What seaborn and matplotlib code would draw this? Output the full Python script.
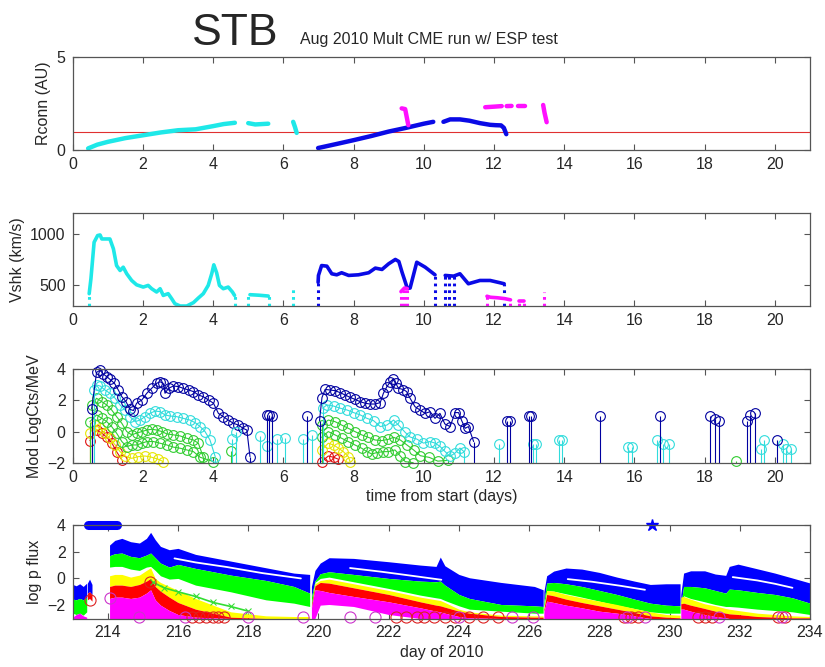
import numpy as np
import pandas as pd
import matplotlib
matplotlib.use('Agg')
from matplotlib import pyplot as plt
import seaborn as sns

# ---------------- panel 1 : Rconn (AU) vs time from start ----------------
r_cyan_t = [[0.44, 0.7, 1.0, 1.5, 2.0, 2.5, 3.0, 3.5, 4.0, 4.3, 4.62],
            [5.0, 5.2, 5.57],
            [6.28, 6.33, 6.38]]
r_cyan_v = [[0.1, 0.3, 0.45, 0.65, 0.8, 0.95, 1.07, 1.12, 1.29, 1.4, 1.47],
            [1.45, 1.38, 1.42],
            [1.52, 1.25, 0.93]]
r_blue_t = [[6.99, 7.5, 8.0, 8.5, 9.0, 9.5, 10.0, 10.27],
            [10.56, 10.75, 11.03, 11.3, 11.6, 11.89, 12.05, 12.2, 12.28, 12.35]]
r_blue_v = [[0.12, 0.33, 0.54, 0.76, 1.0, 1.2, 1.42, 1.52],
            [1.52, 1.65, 1.65, 1.58, 1.45, 1.36, 1.34, 1.33, 1.2, 0.86]]
r_mag_t = [[9.37, 9.47, 9.56], [11.75, 12.0, 12.22], [12.36, 12.5],
           [12.69, 12.89], [13.4, 13.44, 13.5]]
r_mag_v = [[2.24, 2.2, 1.34], [2.3, 2.33, 2.36], [2.36, 2.37],
           [2.36, 2.36], [2.42, 2.0, 1.5]]
r_ref = 1.0

# ---------------- panel 2 : Vshk (km/s) ----------------
v_cyan_t = [[0.47, 0.52, 0.61, 0.71, 0.78, 0.83, 1.06, 1.16, 1.25, 1.35, 1.44, 1.54, 1.68,
             1.82, 2.01, 2.15, 2.25, 2.39, 2.49, 2.58, 2.72, 2.82, 2.91, 3.06, 3.25, 3.44,
             3.58, 3.72, 3.86, 3.96, 4.02, 4.1, 4.18, 4.29, 4.43, 4.55, 4.61],
            [5.05, 5.3, 5.57]]
v_cyan_v = [[420, 565, 919, 984, 990, 951, 951, 855, 693, 645, 677, 613, 548,
             506, 484, 500, 468, 436, 468, 403, 420, 371, 323, 300, 300, 333,
             378, 420, 500, 613, 700, 623, 500, 468, 484, 436, 403],
            [410, 405, 397]]
v_blue_t = [[6.99, 7.0, 7.09, 7.24, 7.38, 7.52, 7.66, 7.86, 8.14, 8.43, 8.62, 8.81, 9.0,
             9.19, 9.29, 9.38, 9.53, 9.61, 9.8, 10.04, 10.32],
            [10.61, 10.85, 11.03, 11.27, 11.6, 11.89, 12.17, 12.29]]
v_blue_v = [[530, 597, 693, 687, 613, 603, 623, 597, 603, 623, 668, 655, 710,
             752, 732, 629, 474, 474, 725, 677, 603],
            [597, 590, 613, 516, 548, 548, 526, 516]]
v_mag_t = [[9.35, 9.45, 9.53], [11.8, 11.9, 12.1, 12.3, 12.47], [12.72, 12.85]]
v_mag_v = [[440, 475, 470], [395, 385, 380, 372, 360], [352, 352]]
# dotted columns running down to the bottom of the axis
col_cyan_t = [0.47, 4.61, 5.0, 5.6, 6.28]
col_cyan_v = [420, 403, 420, 397, 480]
col_blue_t = [6.99, 10.32, 10.61, 10.73, 10.85, 12.29]
col_blue_v = [530, 603, 597, 590, 590, 516]
col_mag_t = [9.35, 9.43, 9.51, 11.8, 12.47, 12.72, 12.85, 13.42]
col_mag_v = [440, 470, 470, 400, 360, 350, 350, 435]

# ---------------- panel 3 : Mod LogCts/MeV ----------------
m_blue_t = [[0.54, 0.68, 0.78, 0.87, 0.97, 1.06, 1.19, 1.30, 1.40, 1.52, 1.63, 1.73, 1.82,
             1.97, 2.11, 2.25, 2.39, 2.49, 2.58, 2.63, 2.73, 2.87, 3.01, 3.15, 3.30, 3.44,
             3.58, 3.72, 3.87, 4.01, 4.15, 4.29, 4.43, 4.58, 4.72, 4.86, 4.96, 5.05],
            [7.03, 7.1, 7.19, 7.33, 7.47, 7.62, 7.76, 7.90, 8.04, 8.19, 8.33, 8.47, 8.61,
             8.76, 8.85, 8.95, 9.05, 9.12, 9.2, 9.28, 9.42, 9.51, 9.61, 9.75, 9.89, 10.04,
             10.18, 10.32, 10.46, 10.6, 10.75, 10.89, 10.99, 11.08, 11.18, 11.27, 11.42]]
m_blue_v = [[1.45, 3.8, 3.95, 3.7, 3.53, 3.36, 3.1, 2.67, 2.24, 1.92, 1.43, 1.35, 1.82,
             2.03, 2.46, 2.78, 3.1, 3.2, 3.1, 2.46, 2.78, 2.93, 2.89, 2.78, 2.67, 2.57,
             2.35, 2.24, 2.03, 1.82, 1.17, 0.96, 0.74, 0.53, 0.42, 0.2, 0.1, -1.61],
            [0.7, 2.18, 2.71, 2.67, 2.63, 2.5, 2.35, 2.2, 2.07, 1.92, 1.82, 1.77, 1.77,
             1.86, 2.46, 2.89, 3.2, 3.36, 3.1, 2.78, 2.7, 2.57, 2.14, 1.6, 1.39, 1.17,
             1.28, 0.85, 1.17, 0.49, 0.32, 1.22, 1.22, 0.7, 0.21, 0.32, -0.64]]
m_cyan_t = [[0.6, 0.68, 0.78, 0.92, 1.06, 1.21, 1.35, 1.49, 1.63, 1.78, 1.92, 2.06, 2.2,
             2.35, 2.49, 2.63, 2.77, 2.96, 3.15, 3.34, 3.49, 3.63, 3.77, 3.91, 4.06],
            [7.12, 7.24, 7.43, 7.62, 7.81, 8.0, 8.19, 8.38, 8.57, 8.76, 8.95, 9.14, 9.28,
             9.47, 9.61, 9.8, 9.99, 10.18, 10.32, 10.46, 10.6, 10.75, 10.89, 11.03, 11.15]]
m_cyan_v = [[2.7, 2.99, 2.93, 2.67, 2.46, 2.14, 1.71, 1.39, 0.96, 0.64, 0.74, 0.96, 1.17,
             1.32, 1.28, 1.07, 1.0, 0.96, 0.85, 0.74, 0.57, 0.32, 0.0, -0.54, -1.61],
            [1.5, 1.71, 1.64, 1.5, 1.39, 1.22, 1.07, 0.85, 0.7, 0.32, 0.42, 0.74, 0.42,
             -0.05, -0.35, -0.48, -0.74, -0.64, -0.74, -0.95, -1.27, -1.6, -1.38, -1.06, -1.3]]
m_green_t = [[0.55, 0.68, 0.83, 0.97, 1.11, 1.25, 1.4, 1.54, 1.68, 1.82, 1.97, 2.11, 2.25,
              2.39, 2.54, 2.68, 2.87, 3.06, 3.25, 3.44, 3.58, 3.72],
             [0.49, 0.68, 0.83, 0.97, 1.11, 1.25, 1.4, 1.54, 1.68, 1.82, 1.97, 2.11, 2.3,
              2.49, 2.68, 2.87, 3.06, 3.25, 3.44, 3.63, 4.01],
             [7.09, 7.28, 7.47, 7.66, 7.85, 8.04, 8.23, 8.42, 8.61, 8.8, 8.99, 9.14, 9.33,
              9.52, 9.71, 9.9, 10.16, 10.4, 10.7],
             [7.09, 7.28, 7.47, 7.66, 7.85, 8.04, 8.23, 8.38, 8.52, 8.66, 8.85, 8.99, 9.18,
              9.33, 9.47, 9.7]]
m_green_v = [[1.7, 2.14, 1.92, 1.71, 1.39, 0.96, 0.53, 0.0, -0.21, -0.1, 0.0, 0.1, 0.15,
              0.1, 0.0, -0.15, -0.21, -0.28, -0.43, -0.54, -0.75, -1.65],
             [0.64, 1.07, 0.85, 0.64, 0.32, -0.1, -0.64, -0.97, -0.86, -0.86, -0.75, -0.64, -0.64,
              -0.75, -0.86, -1.0, -1.07, -1.18, -1.29, -1.65, -1.93],
             [0.42, 0.74, 0.64, 0.42, 0.21, 0.0, -0.21, -0.37, -0.54, -0.58, -0.5, -0.37, -0.54,
              -0.86, -1.18, -1.55, -1.66, -1.9, -1.85],
             [-0.37, 0.0, -0.21, -0.43, -0.64, -0.86, -1.07, -1.29, -1.44, -1.35, -1.29, -1.29, -1.18,
              -1.57, -1.93, -2.0]]
m_yellow_t = [[0.49, 0.64, 0.78, 0.92, 1.06, 1.21, 1.35, 1.49, 1.68, 1.87, 2.06, 2.25, 2.44, 2.58],
              [7.09, 7.28, 7.43, 7.57, 7.71, 7.85, 7.9]]
m_yellow_v = [[-0.1, 0.42, 0.21, -0.1, -0.43, -0.86, -1.29, -1.57, -1.72, -1.61, -1.57, -1.65, -1.78, -1.93],
              [-1.18, -0.75, -0.86, -1.07, -1.29, -1.61, -1.93]]
m_red_t = [[0.49, 0.68, 0.83, 0.97, 1.11, 1.25, 1.4], [7.09, 7.28, 7.43, 7.57]]
m_red_v = [[-0.58, 0.1, -0.1, -0.37, -0.71, -1.29, -1.82], [-1.93, -1.57, -1.65, -1.78]]
# isolated spikes
s_blue_t = [5.53, 5.6, 5.67, 6.67, 12.37, 12.46, 12.99, 13.06, 15.03, 16.72, 18.16, 18.3,
            18.4, 19.2, 19.3, 19.44, 20.06]
s_blue_v = [1.05, 1.05, 1.0, 1.0, 0.7, 0.7, 1.0, 1.0, 1.0, 1.0, 1.0, 0.78,
            0.7, 0.7, 1.07, 1.17, -0.53]
s_cyan_t = [4.53, 4.65, 5.34, 5.53, 5.81, 6.05, 6.57, 6.81, 12.13, 13.12, 13.2, 13.85, 13.94,
            15.82, 15.94, 16.65, 16.8, 16.99, 19.6, 19.7, 20.23, 20.33, 20.47]
s_cyan_v = [-0.5, 0.0, -0.28, -0.95, -0.45, -0.43, -0.5, -0.2, -0.8, -0.8, -0.8, -0.57, -0.57,
            -1.0, -1.0, -0.57, -0.8, -0.8, -1.13, -0.57, -0.8, -1.13, -1.13]
s_green_t = [4.5, 18.9]
s_green_v = [-1.25, -1.9]

# ---------------- panel 4 : log p flux vs day of 2010 ----------------
d0 = [213.0, 213.1, 213.2, 213.3, 213.4]
blue0_top = [-0.45, -0.55, -0.4, -0.6, -0.35]
blue0_bot = [-1.55, -1.6, -1.5, -1.6, -1.45]
green0_bot = [-2.6, -2.7, -2.6, -2.75, -2.5]
mag0_top = [-2.9, -2.7, -2.6, -2.8, -2.9]
d0b = [213.42, 213.48, 213.55]
blue0b_top = [-0.35, -0.05, -0.45]
blue0b_bot = [-1.1, -1.0, -1.2]
red0b_bot = [-1.6, -1.5, -1.7]

d1 = [214.05, 214.2, 214.4, 214.65, 214.9, 215.1, 215.22, 215.35, 215.5, 215.75,
      216.0, 216.5, 217.5, 218.5, 219.3, 219.75]
blue1_top = [2.5, 2.85, 3.0, 2.75, 2.65, 3.0, 3.45, 2.9, 2.4, 2.15, 2.25, 1.8, 1.3, 0.8, 0.4, 0.3]
blue1_bot = [1.7, 1.85, 1.9, 1.65, 1.55, 1.75, 1.9, 1.55, 1.15, 0.85, 1.05, 0.75, 0.25, -0.15, -0.6, -1.1]
green1_bot = [0.85, 0.9, 0.9, 0.7, 0.6, 0.85, 0.9, 0.6, 0.2, -0.05, 0.0, -0.5, -1.0, -1.6, -1.85, -2.1]
yellow1_top = [0.2, 0.3, 0.3, 0.1, 0.25, 0.6, 0.8, 0.0, -0.3, -0.6, -0.9, -1.5, -2.5, -2.8, -2.85, -2.85]
red1_top = [-0.6, -0.5, -0.5, -0.6, -0.45, -0.2, 0.0, -0.6, -0.95, -1.4, -1.8, -2.3, -2.9, -3.0, -3.0, -3.0]
mag1_top = [-1.5, -1.4, -1.4, -1.5, -1.4, -1.1, -0.85, -1.6, -2.0, -2.4, -2.7, -2.9, -3.0, -3.0, -3.0, -3.0]

d2 = [219.8, 219.9, 220.05, 220.3, 221.0, 222.0, 222.9, 223.35, 223.47, 223.6,
      224.0, 224.3, 225.2, 226.15, 226.4]
blue2_top = [-0.6, 0.6, 1.15, 1.55, 1.5, 1.25, 1.0, 0.9, 1.6, 0.95, 0.3, 0.05, -0.3, -0.6, -0.85]
blue2_bot = [-1.4, -0.2, 0.35, 0.5, 0.3, 0.0, -0.2, -0.25, -0.2, -0.5, -1.2, -1.5, -1.95, -2.05, -2.1]
green2_bot = [-2.0, -0.3, 0.0, 0.1, -0.25, -0.75, -1.25, -1.45, -1.5, -1.65, -2.05, -2.3, -2.45, -2.6, -2.6]
yellow2_top = [-2.0, -0.4, -0.15, -0.05, -0.4, -0.9, -1.4, -1.6, -1.65, -1.8, -2.3, -2.5, -2.75, -2.8, -2.8]
red2_top = [-2.0, -0.55, -0.3, -0.35, -0.7, -1.2, -1.75, -2.0, -2.05, -2.15, -2.45, -2.6, -2.85, -2.9, -2.9]
mag2_top = [-2.2, -0.85, -0.9, -1.05, -1.35, -1.75, -2.2, -2.45, -2.5, -2.6, -2.85, -2.95, -3.0, -3.0, -3.0]
mag2_bot = [-3.0, -3.0, -2.0, -1.95, -2.1, -2.7, -3.0, -3.0, -3.0, -3.0, -3.0, -3.0, -3.0, -3.0, -3.0]

d3 = [226.42, 226.5, 226.7, 227.05, 227.5, 228.0, 228.5, 229.0, 229.45, 229.9, 230.3]
blue3_top = [-1.0, 0.2, 0.55, 0.78, 0.7, 0.45, 0.1, -0.2, -0.45, -0.4, -0.4]
blue3_bot = [-1.8, -0.35, -0.3, -0.4, -0.6, -0.9, -1.2, -1.55, -1.85, -2.0, -2.05]
green3_bot = [-2.2, -0.9, -0.95, -1.15, -1.4, -1.7, -2.0, -2.25, -2.5, -2.6, -2.6]
yellow3_top = [-2.3, -0.9, -0.95, -1.2, -1.45, -1.7, -1.95, -2.25, -2.5, -2.7, -2.75]
red3_top = [-2.3, -1.2, -1.3, -1.55, -1.8, -2.05, -2.3, -2.55, -2.8, -2.9, -2.95]
mag3_top = [-2.5, -1.7, -1.8, -2.0, -2.2, -2.45, -2.6, -2.8, -3.0, -3.0, -3.0]

d4 = [230.32, 230.4, 230.6, 231.0, 231.3, 231.6, 231.7, 231.95, 232.5, 233.0, 233.5, 234.0]
blue4_top = [-1.2, 0.4, 0.57, 0.57, 0.33, 0.23, 0.9, 1.07, 0.72, 0.4, 0.03, -0.34]
blue4_bot = [-2.0, -0.6, -0.6, -0.7, -0.9, -1.1, -0.8, -0.85, -1.05, -1.2, -1.45, -1.85]
green4_bot = [-2.0, -1.3, -1.5, -1.75, -1.95, -2.1, -2.1, -2.15, -2.3, -2.4, -2.5, -2.7]
yellow4_top = [-1.4, -1.35, -1.55, -1.9, -2.05, -2.25, -2.3, -2.4, -2.6, -2.7, -2.8, -2.85]
red4_top = [-1.9, -1.85, -2.0, -2.25, -2.45, -2.6, -2.65, -2.7, -2.85, -2.9, -2.95, -2.95]
mag4_top = [-2.3, -2.3, -2.45, -2.7, -2.85, -2.95, -3.0, -3.0, -3.0, -3.0, -3.0, -3.0]

# thin white gaps running inside the blue bands
gap_t = [[215.9, 216.5, 217.4, 218.4, 219.5],
         [220.9, 221.8, 222.8, 223.5],
         [227.1, 227.8, 228.6, 229.3],
         [231.8, 232.5, 233.0, 233.5]]
gap_v = [[1.5, 1.2, 0.85, 0.4, 0.0],
         [0.78, 0.5, 0.15, -0.1],
         [-0.05, -0.25, -0.55, -0.85],
         [0.1, -0.15, -0.4, -0.7]]
# sparse green 'x' trail
gx_t = [215.3, 215.6, 216.0, 216.5, 217.0, 217.5, 218.0]
gx_v = [-0.3, -0.7, -1.0, -1.35, -1.8, -2.1, -2.45]
# saturated points at the top of the panel
sat_t = [213.45, 214.25]
sat_v = [4.0, 4.0]
star_t = [229.5]
star_v = [4.0]
# open circles along the bottom
ring_red_t = [213.5, 215.2, 216.4, 216.6, 216.8, 217.0, 217.15, 217.3, 222.2, 222.5, 222.8,
              223.0, 223.3, 223.6, 223.9, 224.3, 224.7, 225.1, 228.7, 228.9, 229.1, 230.8,
              231.0, 231.2, 233.1, 233.3]
ring_red_v = [-1.6, -0.25, -2.85, -2.85, -2.85, -2.85, -2.85, -2.85, -2.85, -2.85, -2.85,
              -2.85, -2.85, -2.85, -2.85, -2.85, -2.85, -2.85, -2.85, -2.85, -2.85, -2.85,
              -2.85, -2.85, -2.85, -2.85]
ring_mag_t = [214.05, 214.9, 216.2, 218.0, 219.55, 220.9, 221.6, 224.0, 225.5, 226.1, 228.8,
              229.3, 231.4, 233.2]
ring_mag_v = [-1.5, -2.85, -2.85, -2.85, -2.85, -2.85, -2.85, -2.85, -2.85, -2.85, -2.85,
              -2.85, -2.85, -2.85]

# ---------------- colours ----------------
C_CYAN = '#1ee8e8'
C_BLUE = '#0a0ae6'
C_MAG = '#ff10ff'
P_BLUE = '#0000a0'
P_CYAN = '#30dcdc'
P_GREEN = '#30cc30'
P_YELLOW = '#e6e600'
P_RED = '#e01010'
F_BLUE = '#0000ff'
F_GREEN = '#00ff00'
F_YELLOW = '#ffff00'
F_RED = '#ff0000'
F_MAG = '#ff00ff'
FRAME = '#555555'


def seg_frame(ts, vs):
    rows = []
    for i, (t, v) in enumerate(zip(ts, vs)):
        rows += [(i, a, b) for a, b in zip(t, v)]
    return pd.DataFrame(rows, columns=['seg', 't', 'v'])


def draw_segments(ax, ts, vs, color, **kws):
    sns.lineplot(data=seg_frame(ts, vs), x='t', y='v', units='seg', estimator=None,
                 sort=False, color=color, legend=False, ax=ax, **kws)


def frame(ax):
    ax.tick_params(direction='in', top=True, right=True, length=4, width=0.8,
                   color=FRAME, labelsize=11.5, pad=5)
    for s in ax.spines.values():
        s.set_color(FRAME)
        s.set_linewidth(0.9)
    ax.set_xlabel('')
    ax.set_ylabel('')


sns.set_style('ticks')
plt.rcParams['font.family'] = ['Liberation Sans', 'DejaVu Sans']

fig = plt.figure(figsize=(8.25, 6.67), dpi=100)
fig.patch.set_facecolor('white')
left, width = 0.0881, 0.8937
ax1 = fig.add_axes([left, 0.7747, width, 0.1403])
ax2 = fig.add_axes([left, 0.5412, width, 0.1390])
ax3 = fig.add_axes([left, 0.3063, width, 0.1400])
ax4 = fig.add_axes([left, 0.0727, width, 0.1402])

# panel 1
ax1.axhline(r_ref, color='#e03030', lw=0.8)
draw_segments(ax1, r_cyan_t, r_cyan_v, C_CYAN, lw=3.2, solid_capstyle='round')
draw_segments(ax1, r_blue_t, r_blue_v, C_BLUE, lw=3.2, solid_capstyle='round')
draw_segments(ax1, r_mag_t, r_mag_v, C_MAG, lw=3.2, solid_capstyle='round')
frame(ax1)
ax1.set_xlim(0, 21)
ax1.set_ylim(0, 5)
ax1.set_xticks(range(0, 21, 2))
ax1.set_yticks([0, 5])
ax1.set_ylabel('Rconn (AU)', fontsize=11.5)

# panel 2
dots = (0, (0.9, 1.3))
ax2.vlines(col_cyan_t, 300, col_cyan_v, colors=C_CYAN, lw=2.2, linestyles=dots)
ax2.vlines(col_blue_t, 300, col_blue_v, colors=C_BLUE, lw=2.2, linestyles=dots)
ax2.vlines(col_mag_t, 300, col_mag_v, colors=C_MAG, lw=2.2, linestyles=dots)
draw_segments(ax2, v_cyan_t, v_cyan_v, C_CYAN, lw=2.6)
draw_segments(ax2, v_blue_t, v_blue_v, C_BLUE, lw=2.6)
draw_segments(ax2, v_mag_t, v_mag_v, C_MAG, lw=2.6)
frame(ax2)
ax2.set_xlim(0, 21)
ax2.set_ylim(300, 1200)
ax2.set_xticks(range(0, 21, 2))
ax2.set_yticks([500, 1000])
ax2.set_ylabel('Vshk (km/s)', fontsize=11.5)

# panel 3
ring = dict(marker='o', markersize=7, markerfacecolor='none', markeredgewidth=0.8,
            lw=0.8, clip_on=False)
for ts, vs, c in [(m_red_t, m_red_v, P_RED), (m_yellow_t, m_yellow_v, P_YELLOW),
                  (m_green_t, m_green_v, P_GREEN), (m_cyan_t, m_cyan_v, P_CYAN),
                  (m_blue_t, m_blue_v, P_BLUE)]:
    ends_t = [t[0] for t in ts] + [t[-1] for t in ts]
    ends_v = [v[0] for v in vs] + [v[-1] for v in vs]
    ax3.vlines(ends_t, -2, ends_v, colors=c, lw=0.8)
    draw_segments(ax3, ts, vs, c, markeredgecolor=c, **ring)
for ts, vs, c in [(s_green_t, s_green_v, P_GREEN), (s_cyan_t, s_cyan_v, P_CYAN),
                  (s_blue_t, s_blue_v, P_BLUE)]:
    ax3.vlines(ts, -2, vs, colors=c, lw=0.8)
    ax3.plot(ts, vs, 'o', ms=7, mfc='none', mec=c, mew=0.8, clip_on=False)
frame(ax3)
ax3.set_xlim(0, 21)
ax3.set_ylim(-2, 4)
ax3.set_xticks(range(0, 21, 2))
ax3.set_yticks([-2, 0, 2, 4])
ax3.set_ylabel('Mod LogCts/MeV', fontsize=11.5)
ax3.set_xlabel('time from start (days)', fontsize=11.5, labelpad=3)

# panel 4
def band(d, top, bot, c):
    ax4.fill_between(d, top, bot, color=c, lw=0)

band(d0, blue0_top, blue0_bot, F_BLUE)
band(d0, blue0_bot, green0_bot, F_GREEN)
band(d0, mag0_top, [-3.0] * len(d0), F_MAG)
band(d0b, blue0b_top, blue0b_bot, F_BLUE)
band(d0b, blue0b_bot, red0b_bot, F_RED)

for d, bt, bb, gb, yt, rt, mt, mb in [
        (d1, blue1_top, blue1_bot, green1_bot, yellow1_top, red1_top, mag1_top, [-3.0] * len(d1)),
        (d2, blue2_top, blue2_bot, green2_bot, yellow2_top, red2_top, mag2_top, mag2_bot),
        (d3, blue3_top, blue3_bot, green3_bot, yellow3_top, red3_top, mag3_top, [-3.0] * len(d3)),
        (d4, blue4_top, blue4_bot, green4_bot, yellow4_top, red4_top, mag4_top, [-3.0] * len(d4))]:
    band(d, bt, bb, F_BLUE)
    band(d, bb, gb, F_GREEN)
    band(d, yt, rt, F_YELLOW)
    band(d, rt, mt, F_RED)
    band(d, mt, mb, F_MAG)

draw_segments(ax4, gap_t, gap_v, 'white', lw=1.3)
sns.lineplot(x=gx_t, y=gx_v, color='#33dd33', lw=1.2, marker='x', markersize=5,
             markeredgecolor='#33dd33', sort=False, estimator=None, ax=ax4)
ax4.plot(sat_t, sat_v, color=F_BLUE, lw=6.5, solid_capstyle='round', clip_on=False)
ax4.plot(star_t, star_v, '*', color=F_BLUE, ms=9, clip_on=False)
ax4.plot(ring_red_t, ring_red_v, 'o', ms=8, mfc='none', mec='#dd2222', mew=0.8, clip_on=False)
ax4.plot(ring_mag_t, ring_mag_v, 'o', ms=8, mfc='none', mec='#cc33cc', mew=0.8, clip_on=False)
frame(ax4)
ax4.set_xlim(213, 234)
ax4.set_ylim(-3, 4)
ax4.set_xticks(range(214, 235, 2))
ax4.set_yticks([-2, 0, 2, 4])
ax4.set_ylabel('log p flux', fontsize=11.5)
ax4.set_xlabel('day of 2010', fontsize=11.5, labelpad=3)

# title
fig.text(192 / 825, 1 - 45 / 667, 'STB', fontsize=32, va='baseline', ha='left')
fig.text(300 / 825, 1 - 44 / 667, 'Aug 2010 Mult CME run w/ ESP test', fontsize=11.5,
         va='baseline', ha='left')

fig.savefig('out.png', dpi=100, facecolor='white')
